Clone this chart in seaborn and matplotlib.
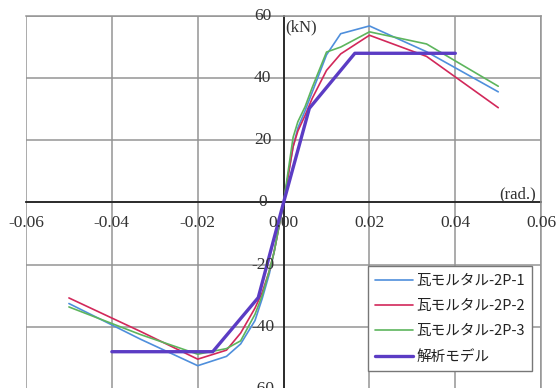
import matplotlib
matplotlib.use("Agg")
import matplotlib.pyplot as plt
import seaborn as sns
import pandas as pd

# ---- data ----
angle_pts = [-0.05, -0.0333, -0.02, -0.0133, -0.01, -0.00667, -0.005, -0.00333, -0.00222, 0.0,
             0.00222, 0.00333, 0.005, 0.00667, 0.01, 0.0133, 0.02, 0.0333, 0.05]
load_2p1 = [-32.5, -44.0, -52.5, -49.5, -45.5, -38.0, -31.0, -23.0, -16.0, 0.0,
            18.0, 24.0, 29.5, 35.5, 47.5, 54.3, 56.8, 48.5, 35.6]
load_2p2 = [-30.7, -41.5, -50.4, -47.5, -42.0, -34.0, -29.0, -22.0, -16.0, 0.0,
            18.0, 23.0, 28.0, 33.5, 42.5, 47.8, 53.8, 47.0, 30.5]
load_2p3 = [-33.6, -42.5, -48.8, -47.0, -44.5, -36.0, -30.0, -22.0, -16.0, 0.0,
            21.0, 26.0, 30.8, 37.0, 48.4, 50.0, 54.9, 51.0, 37.4]
model_angle = [-0.04, -0.0165, -0.0059, 0.0, 0.006, 0.0166, 0.04]
model_load = [-48.0, -48.0, -30.6, 0.0, 30.3, 48.0, 48.0]

series_names = ["瓦モルタル-2P-1", "瓦モルタル-2P-2", "瓦モルタル-2P-3", "解析モデル"]
colors = ["#4f8fdc", "#d2285a", "#5db55d", "#5b3cc4"]
widths = [1.2, 1.2, 1.2, 2.4]

xticks = [-0.06, -0.04, -0.02, 0.00, 0.02, 0.04, 0.06]
xtick_labels = ["-0.06", "-0.04", "-0.02", "0.00", "0.02", "0.04", "0.06"]
yticks = [-60, -40, -20, 0, 20, 40, 60]
ytick_labels = ["-60", "-40", "-20", "0", "20", "40", "60"]

sns.set_theme(style="white")
plt.rcParams['font.family'] = ['Liberation Serif', 'DejaVu Serif']

fig = plt.figure(figsize=(5.6, 3.88), dpi=100)
ax = fig.add_axes([0.0464, -0.0026, 0.920, 0.9614])

datasets = [(angle_pts, load_2p1), (angle_pts, load_2p2), (angle_pts, load_2p3),
            (model_angle, model_load)]
for (xs, ys), name, c, lw in zip(datasets, series_names, colors, widths):
    df = pd.DataFrame({"rad": xs, "kN": ys})
    sns.lineplot(data=df, x="rad", y="kN", ax=ax, sort=False, estimator=None,
                 color=c, linewidth=lw, label=name, zorder=3)

ax.set_xlim(-0.06, 0.06)
ax.set_ylim(-60, 60)
ax.set_xticks(xticks)
ax.set_yticks(yticks)
ax.set_xlabel("")
ax.set_ylabel("")
ax.set_xticklabels([])
ax.set_yticklabels([])
ax.grid(True, color="#949494", linewidth=1.1, linestyle="-", zorder=0)
ax.tick_params(length=0)

for side in ["top", "right"]:
    ax.spines[side].set_color("#949494")
    ax.spines[side].set_linewidth(1.1)
ax.spines["left"].set_position(("data", 0))
ax.spines["bottom"].set_position(("data", 0))
for side in ["left", "bottom"]:
    ax.spines[side].set_color("#222222")
    ax.spines[side].set_linewidth(1.3)
    ax.spines[side].set_zorder(2)

serif = ['Liberation Serif', 'DejaVu Serif']
tick_font = dict(fontsize=12.5, color="#333333", family=serif)
for xv, lab in zip(xticks, xtick_labels):
    ax.text(xv, -6.5, lab, ha="center", va="center", zorder=4, **tick_font)
for yv, lab in zip(yticks, ytick_labels):
    ax.text(-0.0049, yv, lab, ha="center", va="center", zorder=4, **tick_font)

ax.text(0.0004, 56.3, "(kN)", ha="left", va="center", fontsize=12, color="#333333",
        family=serif)
ax.text(0.0587, 2.6, "(rad.)", ha="right", va="center", fontsize=12, color="#333333",
        family=serif)

leg = ax.legend(loc="lower right", bbox_to_anchor=(0.983, 0.048), frameon=True,
                fancybox=False, edgecolor="#777777", framealpha=1.0,
                prop={"family": ["Noto Sans CJK JP", "DejaVu Sans"], "size": 10.5},
                handlelength=2.6, labelspacing=0.78, borderpad=0.5, handletextpad=0.25,
                borderaxespad=0.0)
leg.get_frame().set_linewidth(1.0)
for t in leg.get_texts():
    t.set_color("#222222")
leg.set_zorder(5)

fig.savefig("out.png", dpi=100, facecolor="white")
